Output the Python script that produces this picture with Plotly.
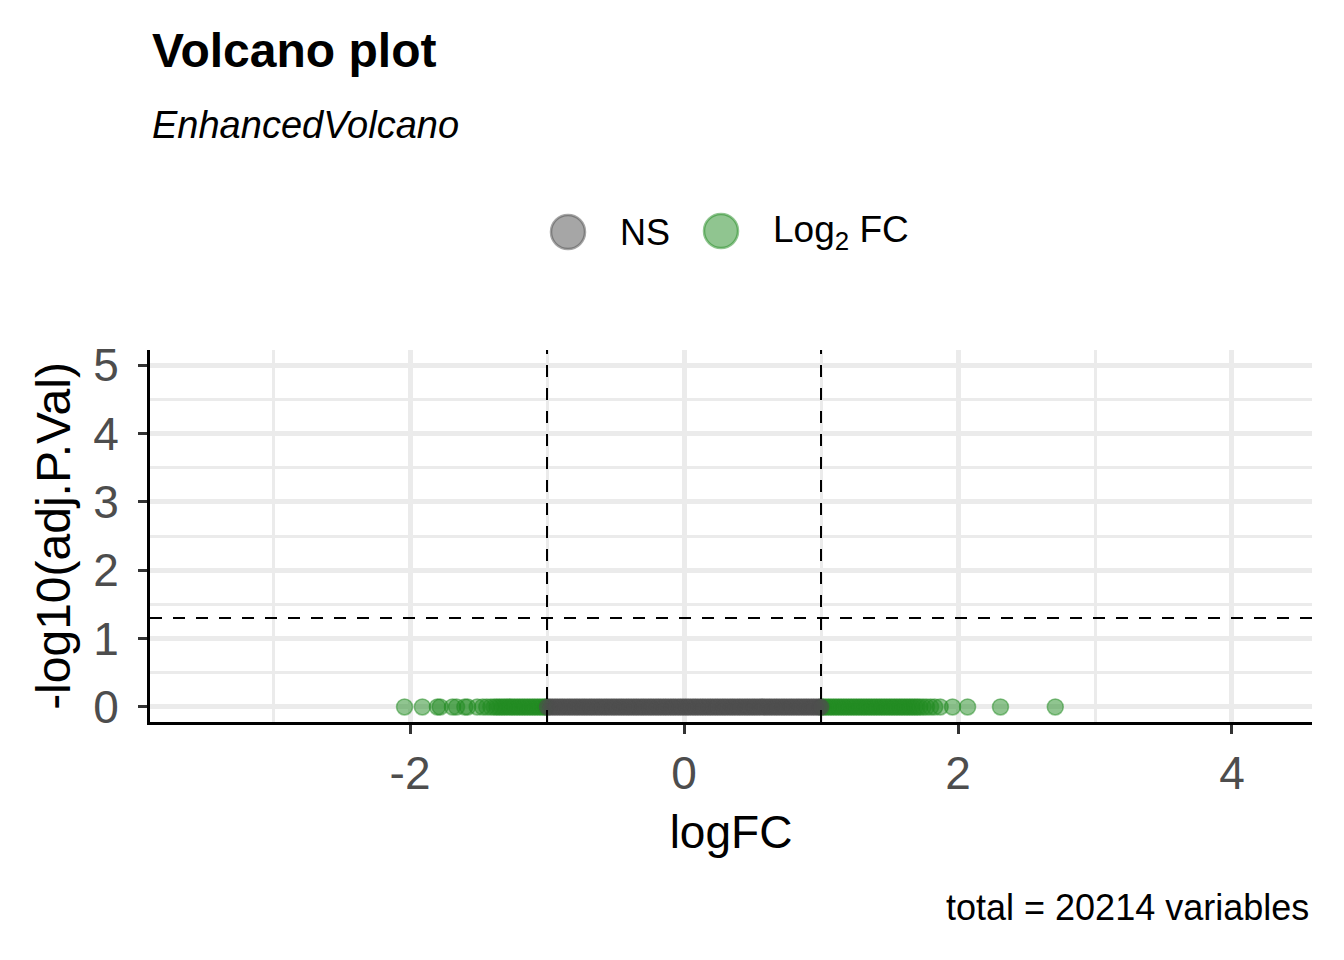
import plotly.graph_objects as go

# =====================================================
# DONNEES
# =====================================================

logfc = [
    -2.04, -1.91, -1.80, -1.78, -1.69, -1.66, -1.60, -1.58, -1.51, -1.47,
    -1.44, -1.41, -1.385, -1.366, -1.348, -1.329, -1.311, -1.292, -1.274, -1.255,
    -1.237, -1.218, -1.200, -1.181, -1.163, -1.144, -1.126, -1.107, -1.089, -1.070,
    -1.052, -1.033, -1.015, -1.004, -0.996, -0.978, -0.961, -0.942, -0.925, -0.906,
    -0.889, -0.871, -0.852, -0.835, -0.817, -0.798, -0.781, -0.763, -0.744, -0.727,
    -0.709, -0.690, -0.673, -0.655, -0.636, -0.619, -0.601, -0.582, -0.565, -0.547,
    -0.528, -0.511, -0.493, -0.474, -0.457, -0.439, -0.420, -0.403, -0.385, -0.366,
    -0.349, -0.331, -0.312, -0.295, -0.277, -0.258, -0.241, -0.223, -0.204, -0.187,
    -0.169, -0.150, -0.133, -0.115, -0.096, -0.079, -0.061, -0.042, -0.025, -0.007,
    0.012, 0.029, 0.047, 0.066, 0.083, 0.101, 0.120, 0.137, 0.155, 0.174,
    0.191, 0.209, 0.228, 0.245, 0.263, 0.282, 0.299, 0.317, 0.336, 0.353,
    0.371, 0.390, 0.407, 0.425, 0.444, 0.461, 0.479, 0.498, 0.515, 0.533,
    0.552, 0.569, 0.587, 0.606, 0.623, 0.641, 0.660, 0.677, 0.695, 0.714,
    0.731, 0.749, 0.768, 0.785, 0.803, 0.822, 0.839, 0.857, 0.876, 0.893,
    0.911, 0.930, 0.947, 0.965, 0.984, 0.998, 1.003, 1.018, 1.036, 1.055,
    1.073, 1.092, 1.110, 1.129, 1.147, 1.166, 1.184, 1.203, 1.221, 1.240,
    1.258, 1.277, 1.295, 1.314, 1.332, 1.351, 1.369, 1.388, 1.406, 1.425,
    1.443, 1.462, 1.480, 1.499, 1.517, 1.536, 1.554, 1.573, 1.591, 1.610,
    1.628, 1.647, 1.665, 1.684, 1.702, 1.721, 1.745, 1.77, 1.80, 1.83,
    1.87, 1.96, 2.07, 2.31, 2.71,
]

neg_log10_padj = [
    0.0, 0.0, 0.0, 0.0, 0.0, 0.0, 0.0, 0.0, 0.0, 0.0,
    0.0, 0.0, 0.0, 0.0, 0.0, 0.0, 0.0, 0.0, 0.0, 0.0,
    0.0, 0.0, 0.0, 0.0, 0.0, 0.0, 0.0, 0.0, 0.0, 0.0,
    0.0, 0.0, 0.0, 0.0, 0.0, 0.0, 0.0, 0.0, 0.0, 0.0,
    0.0, 0.0, 0.0, 0.0, 0.0, 0.0, 0.0, 0.0, 0.0, 0.0,
    0.0, 0.0, 0.0, 0.0, 0.0, 0.0, 0.0, 0.0, 0.0, 0.0,
    0.0, 0.0, 0.0, 0.0, 0.0, 0.0, 0.0, 0.0, 0.0, 0.0,
    0.0, 0.0, 0.0, 0.0, 0.0, 0.0, 0.0, 0.0, 0.0, 0.0,
    0.0, 0.0, 0.0, 0.0, 0.0, 0.0, 0.0, 0.0, 0.0, 0.0,
    0.0, 0.0, 0.0, 0.0, 0.0, 0.0, 0.0, 0.0, 0.0, 0.0,
    0.0, 0.0, 0.0, 0.0, 0.0, 0.0, 0.0, 0.0, 0.0, 0.0,
    0.0, 0.0, 0.0, 0.0, 0.0, 0.0, 0.0, 0.0, 0.0, 0.0,
    0.0, 0.0, 0.0, 0.0, 0.0, 0.0, 0.0, 0.0, 0.0, 0.0,
    0.0, 0.0, 0.0, 0.0, 0.0, 0.0, 0.0, 0.0, 0.0, 0.0,
    0.0, 0.0, 0.0, 0.0, 0.0, 0.0, 0.0, 0.0, 0.0, 0.0,
    0.0, 0.0, 0.0, 0.0, 0.0, 0.0, 0.0, 0.0, 0.0, 0.0,
    0.0, 0.0, 0.0, 0.0, 0.0, 0.0, 0.0, 0.0, 0.0, 0.0,
    0.0, 0.0, 0.0, 0.0, 0.0, 0.0, 0.0, 0.0, 0.0, 0.0,
    0.0, 0.0, 0.0, 0.0, 0.0, 0.0, 0.0, 0.0, 0.0, 0.0,
    0.0, 0.0, 0.0, 0.0, 0.0,
]

x_ticks = [-2, 0, 2, 4]
x_ticklabels = ["-2", "0", "2", "4"]

fc_cutoff = 1.0
p_cutoff = 0.05
n_total = 20214

# =====================================================
# CATEGORIES (NS / Log2 FC)
# =====================================================

ns_x, ns_y, fc_x, fc_y = [], [], [], []
for fc, p in zip(logfc, neg_log10_padj):
    if abs(fc) > fc_cutoff:
        fc_x.append(fc)
        fc_y.append(p)
    else:
        ns_x.append(fc)
        ns_y.append(p)

GREY = "rgba(77,77,77,0.5)"
GREEN = "rgba(34,139,34,0.5)"
FONT = "Liberation Sans, Arial, sans-serif"

# la page ajoute 8px de marge : on travaille en coordonnees de la reference
OFF = 8
W, H = 1344 - OFF, 960 - OFF
L, T = 150 - OFF, 350 - OFF
R = W - (1312 - OFF)
B = H - (722 - OFF)
PW, PH = W - L - R, H - T - B


def px(x):
    return (x - OFF - L) / PW


def py(y):
    return (H - B - (y - OFF)) / PH


fig = go.Figure()

fig.add_trace(go.Scatter(
    x=fc_x, y=fc_y, mode="markers", name="Log2 FC",
    marker=dict(size=16, color=GREEN, line=dict(color=GREEN, width=1.5)),
))
fig.add_trace(go.Scatter(
    x=ns_x, y=ns_y, mode="markers", name="NS",
    marker=dict(size=16, color=GREY, line=dict(color=GREY, width=1.5)),
))

# lignes de seuil
dash = dict(color="black", width=2, dash="12px,11px")
p_line = 1.30103  # -log10(0.05)
shapes = [
    dict(type="line", xref="x", yref="paper", x0=-fc_cutoff, x1=-fc_cutoff, y0=0, y1=1, line=dash),
    dict(type="line", xref="x", yref="paper", x0=fc_cutoff, x1=fc_cutoff, y0=0, y1=1, line=dash),
    dict(type="line", xref="paper", yref="y", x0=0, x1=1, y0=p_line, y1=p_line, line=dash),
]

# legende manuelle (gros symboles)
for cx, cy, col in [(568, 232, GREY), (721, 231, GREEN)]:
    shapes.append(dict(
        type="circle", xref="paper", yref="paper",
        xsizemode="pixel", ysizemode="pixel",
        xanchor=px(cx), yanchor=py(cy),
        x0=-17, x1=17, y0=-17, y1=17,
        fillcolor=col, line=dict(color=col, width=2.5),
    ))

annotations = [
    dict(text="<b>Volcano plot</b>", x=px(150), y=py(50), xanchor="left", yanchor="middle",
         font=dict(size=48, color="black")),
    dict(text="<i>EnhancedVolcano</i>", x=px(150), y=py(125), xanchor="left", yanchor="middle",
         font=dict(size=38, color="black")),
    dict(text="NS", x=px(618), y=py(232), xanchor="left", yanchor="middle",
         font=dict(size=36, color="black")),
    dict(text="Log<sub>2</sub> FC", x=px(771), y=py(232), xanchor="left", yanchor="middle",
         font=dict(size=37, color="black")),
    dict(text="total = %d variables" % n_total, x=px(1311), y=py(907), xanchor="right",
         yanchor="middle", font=dict(size=36, color="black")),
]
for a in annotations:
    a.update(xref="paper", yref="paper", showarrow=False)

axis_common = dict(
    showgrid=True, gridcolor="#EBEBEB", gridwidth=5,
    zeroline=False, showline=True, linecolor="black", linewidth=3,
    ticks="outside", ticklen=9, tickwidth=3, tickcolor="#333333",
    tickfont=dict(size=46, color="#4D4D4D"),
)

fig.update_layout(
    width=W, height=H,
    margin=dict(l=L, r=R, t=T, b=B),
    plot_bgcolor="white", paper_bgcolor="white",
    font=dict(family=FONT, color="black"),
    showlegend=False,
    shapes=shapes,
    annotations=annotations,
    xaxis=dict(
        range=[-3.898, 4.584], tickmode="array", tickvals=x_ticks, ticktext=x_ticklabels,
        minor=dict(tickmode="array", tickvals=[-3, -1, 1, 3], showgrid=True,
                   gridcolor="#EBEBEB", gridwidth=2.5, ticks=""),
        title=dict(text="logFC", font=dict(size=46), standoff=18),
        **axis_common,
    ),
    yaxis=dict(
        range=[-0.22, 5.22], tick0=0, dtick=1,
        minor=dict(dtick=0.5, showgrid=True, gridcolor="#EBEBEB", gridwidth=2.5, ticks=""),
        title=dict(text="-log10(adj.P.Val)", font=dict(size=48), standoff=8),
        ticklabelstandoff=10,
        **axis_common,
    ),
)

fig.write_html("out.html")
